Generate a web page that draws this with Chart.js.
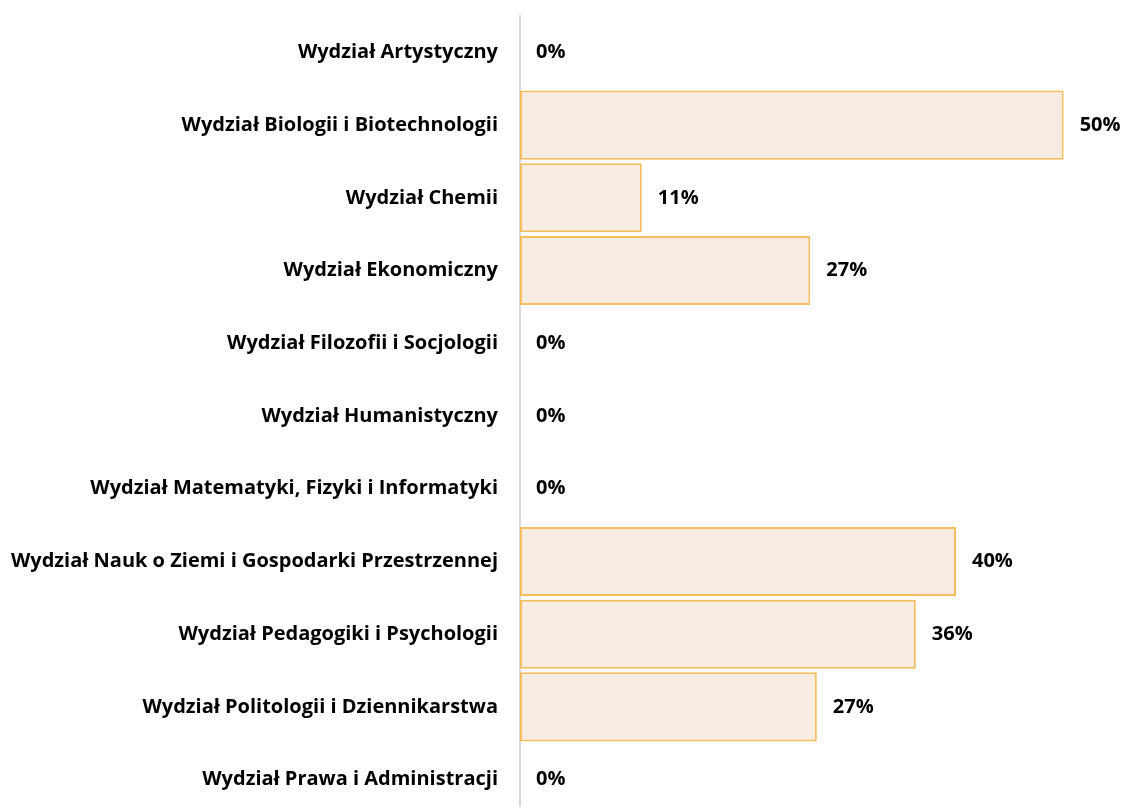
<!DOCTYPE html>
<html>
<head>
<meta charset="utf-8">
<script src="https://cdn.jsdelivr.net/npm/chart.js@4"></script>
<style>
  html, body { margin: 0; padding: 0; background: #ffffff; overflow: hidden; }
  #wrap { width: 1125px; height: 816px; }
</style>
</head>
<body>
<div id="wrap"><canvas id="chart"></canvas></div>
<script>
"use strict";

const categories = [
  "Wydział Artystyczny",
  "Wydział Biologii i Biotechnologii",
  "Wydział Chemii",
  "Wydział Ekonomiczny",
  "Wydział Filozofii i Socjologii",
  "Wydział Humanistyczny",
  "Wydział Matematyki, Fizyki i Informatyki",
  "Wydział Nauk o Ziemi i Gospodarki Przestrzennej",
  "Wydział Pedagogiki i Psychologii",
  "Wydział Politologii i Dziennikarstwa",
  "Wydział Prawa i Administracji",
];
const shares = [0, 50, 11.2, 26.7, 0, 0, 0, 40.1, 36.4, 27.3, 0];
const AXIS_LEFT = 520;
const FONT = { family: "'Open Sans', sans-serif", size: 20, weight: "bold" };

// value labels at the end of each bar
const barLabels = {
  id: "barLabels",
  afterDatasetsDraw(chart) {
    const ctx = chart.ctx;
    const meta = chart.getDatasetMeta(0);
    ctx.save();
    ctx.font = `bold ${FONT.size}px ${FONT.family}`;
    ctx.fillStyle = "#000000";
    ctx.textAlign = "left";
    ctx.textBaseline = "middle";
    meta.data.forEach((bar, i) => {
      ctx.fillText(`${Math.round(shares[i])}%`, bar.x + 16, bar.y);
    });
    ctx.restore();
  },
};

new Chart(document.getElementById("chart"), {
  type: "bar",
  data: {
    labels: categories,
    datasets: [
      {
        data: shares,
        backgroundColor: "#f7ece2",
        borderColor: "#f7bd5c",
        borderWidth: 2,
        borderSkipped: false,
        categoryPercentage: 1,
        barPercentage: 0.95,
      },
    ],
  },
  options: {
    indexAxis: "y",
    responsive: true,
    maintainAspectRatio: false,
    animation: false,
    layout: { padding: { top: 16, right: 7, bottom: 0, left: 0 } },
    plugins: { legend: { display: false }, tooltip: { enabled: false } },
    scales: {
      x: {
        min: 0,
        max: 55,
        display: false,
      },
      y: {
        afterFit(scale) {
          scale.width = AXIS_LEFT;
          scale.paddingTop = 0;
          scale.paddingBottom = 0;
        },
        grid: { display: false, drawTicks: false },
        border: { display: true, color: "#d9d9d9", width: 2 },
        ticks: { color: "#000000", font: FONT, padding: 22 },
      },
    },
  },
  plugins: [barLabels],
});
</script>
</body>
</html>
